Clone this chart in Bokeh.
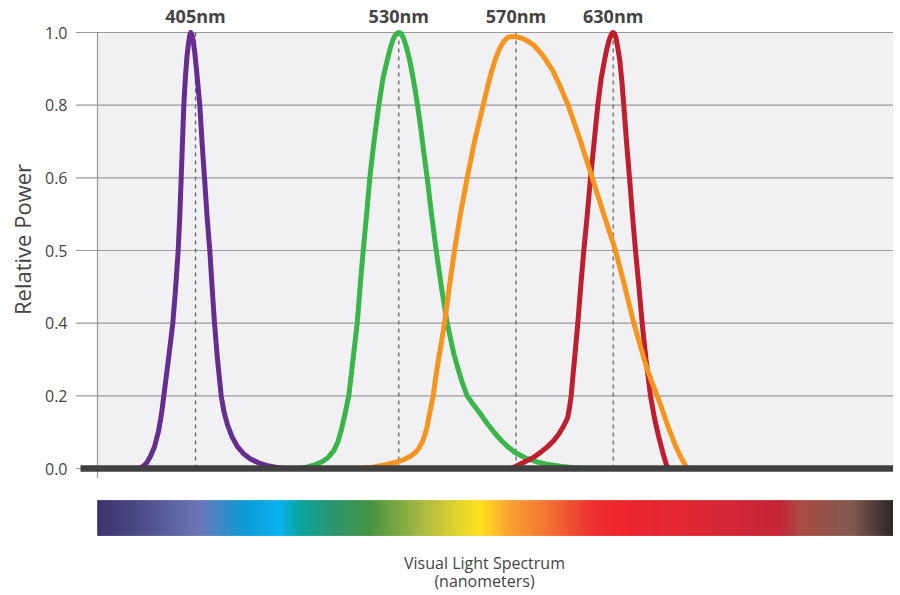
import numpy as np
from bokeh.plotting import figure
from bokeh.layouts import column
from bokeh.models import FixedTicker, Range1d
from bokeh.core.properties import value
from bokeh.embed import file_html
from bokeh.resources import INLINE

# ---------------- data ----------------
y_tick_labels = ["0.0", "0.2", "0.4", "0.5", "0.6", "0.8", "1.0"]

peak_labels = ["405nm", "530nm", "570nm", "630nm"]
peak_pos = [195.0, 398.3, 515.5, 612.7]

violet_x = [138, 142, 146, 150, 154, 158, 161, 163.3, 166, 169, 172.3, 175, 177.7, 179.3, 180.7, 182, 183.3,
            185, 186.5, 188, 189.2, 190.2, 191.3, 192.7, 194.2, 196, 197.8, 199.3, 201.5, 204, 206.5, 209.3,
            211.5, 214, 217, 220.7, 223.5, 227, 231.7, 237, 243, 250, 258, 266, 275, 285]
violet_y = [0, 0.004, 0.012, 0.028, 0.05, 0.085, 0.125, 0.1667, 0.215, 0.27, 0.3333, 0.41, 0.5, 0.58, 0.6667,
            0.75, 0.8333, 0.9, 0.945, 0.975, 0.993, 1.0, 0.996, 0.982, 0.955, 0.915, 0.87, 0.8333, 0.75, 0.6667,
            0.58, 0.5, 0.42, 0.3333, 0.25, 0.1667, 0.13, 0.1, 0.072, 0.05, 0.034, 0.022, 0.013, 0.007, 0.003, 0]

green_x = [298, 306, 314, 322, 328, 333.3, 337.5, 341, 344.5, 348.3, 352.5, 356.7, 359.7, 362.7, 366, 369.3,
           373.5, 378.3, 382.5, 386.7, 389.5, 392.2, 394.8, 397, 398.8, 400.8, 403, 406, 409, 412, 414.5,
           417, 420, 423, 426.7, 431, 435.7, 441, 446.7, 453.3, 458, 462, 466.7, 473, 480, 487, 494, 500,
           506.7, 515, 525, 536.7, 548, 560, 573, 586]
green_y = [0, 0.003, 0.008, 0.016, 0.026, 0.041, 0.062, 0.09, 0.125, 0.1667, 0.25, 0.3333, 0.42, 0.5, 0.58,
           0.6667, 0.75, 0.8333, 0.895, 0.936, 0.962, 0.982, 0.994, 0.999, 1.0, 0.997, 0.987, 0.966, 0.938,
           0.903, 0.87, 0.8333, 0.785, 0.73, 0.6667, 0.583, 0.5, 0.415, 0.3333, 0.263, 0.225, 0.195, 0.1667,
           0.146, 0.125, 0.102, 0.082, 0.066, 0.051, 0.036, 0.024, 0.015, 0.009, 0.005, 0.002, 0]

amber_x = [360, 372, 384, 396.7, 404, 410, 414.5, 418.5, 422, 424.8, 427, 429, 430.8, 432.7, 435.3, 438, 441,
           444, 449, 454, 460, 466.7, 474, 482.7, 487, 491, 495, 499, 503.3, 507, 511, 515, 520, 526, 533.3,
           542, 551.7, 559, 567.3, 579, 591.7, 603, 615, 624, 633.3, 640, 645, 651, 656.7, 661, 665, 668.5,
           671.7, 675, 679, 683, 687]
amber_y = [0, 0.003, 0.008, 0.015, 0.021, 0.028, 0.036, 0.047, 0.062, 0.08, 0.1, 0.125, 0.145, 0.1667, 0.21,
           0.25, 0.29, 0.3333, 0.42, 0.5, 0.585, 0.6667, 0.75, 0.8333, 0.875, 0.91, 0.94, 0.963, 0.98, 0.988,
           0.991, 0.99, 0.988, 0.982, 0.971, 0.948, 0.915, 0.88, 0.835, 0.758, 0.6667, 0.585, 0.5, 0.42,
           0.3333, 0.28, 0.24, 0.2, 0.1667, 0.14, 0.113, 0.09, 0.072, 0.052, 0.032, 0.015, 0]

red_x = [511, 518, 525, 533.3, 540, 546.5, 553.3, 558, 562.5, 565.5, 567.3, 569, 570.7, 572.3, 574, 577.3,
         580.3, 583.3, 586.7, 590, 593.7, 597.3, 600.7, 604, 606.3, 608.5, 610.5, 612.2, 613.8, 615.5, 617.3,
         619.3, 621.3, 623.3, 626, 629, 632, 635, 638.3, 641.7, 645.5, 650, 654, 658.3, 662.5, 667]
red_y = [0, 0.008, 0.016, 0.026, 0.037, 0.049, 0.064, 0.078, 0.095, 0.108, 0.118, 0.14, 0.1667, 0.21, 0.25,
         0.3333, 0.42, 0.5, 0.58, 0.6667, 0.75, 0.8333, 0.895, 0.936, 0.962, 0.982, 0.994, 1.0, 0.998, 0.988,
         0.965, 0.936, 0.89, 0.8333, 0.75, 0.6667, 0.58, 0.5, 0.42, 0.3333, 0.25, 0.1667, 0.115, 0.072, 0.035, 0]

spectrum_stop_x = [97, 130, 200, 245, 280, 300, 330, 370, 420, 455, 480, 510, 545, 590, 620, 700, 780, 800, 850, 893]
spectrum_stop_colors = ["#342a68", "#403e7a", "#6571b5", "#0098d5", "#00aeef", "#00a19a", "#20926c", "#3f8f3a",
                        "#a2b53a", "#dcd025", "#ffde17", "#f99d27", "#f3712b", "#ee2a26", "#ed1c24", "#dc1f2b",
                        "#c01c2e", "#a8443b", "#7e5349", "#231f20"]

# ---------------- styling ----------------
FONT = "Open Sans"
TXT = "#444444"
BORDER_L = 75
X0, X1 = BORDER_L, 893       # frame extent in chart units (left/right)
PLOT_L = 97                  # left edge of shaded plot area
Y_TOP = 1 + 32 / 436
Y_BOT = -10 / 436
GRID = "#9a9a9a"

tick_pos = [i / (len(y_tick_labels) - 1) for i in range(len(y_tick_labels))]

p = figure(frame_width=X1 - X0, frame_height=478, output_backend="svg", toolbar_location=None,
           x_range=Range1d(X0, X1), y_range=Range1d(Y_BOT, Y_TOP), x_axis_location=None,
           min_border_left=BORDER_L, min_border_right=0, min_border_top=0, min_border_bottom=0)
p.outline_line_color = None
p.grid.visible = False
p.background_fill_color = "white"

ax = p.yaxis[0]
ax.ticker = FixedTicker(ticks=tick_pos)
ax.major_label_overrides = {t: l for t, l in zip(tick_pos, y_tick_labels)}
ax.axis_line_color = None
ax.major_tick_line_color = None
ax.major_tick_in = 0
ax.major_tick_out = 0
ax.minor_tick_line_color = None
ax.major_label_standoff = 8
ax.major_label_text_font = FONT
ax.major_label_text_font_size = "16px"
ax.major_label_text_color = TXT
ax.axis_label = "Relative Power"
ax.axis_label_text_font = FONT
ax.axis_label_text_font_size = "22px"
ax.axis_label_text_font_style = "normal"
ax.axis_label_text_color = TXT
ax.axis_label_standoff = 5

# shaded plot area
p.quad(left=[PLOT_L], right=[X1], bottom=[0], top=[1], fill_color="#f1f1f4", line_color=None)
# grid lines (extend left as tick stubs)
p.segment(x0=[X0] * len(tick_pos), x1=[X1] * len(tick_pos), y0=tick_pos, y1=tick_pos,
          line_color=GRID, line_width=1.2)
# vertical axis line
p.segment(x0=[PLOT_L], x1=[PLOT_L], y0=[Y_BOT], y1=[1], line_color=GRID, line_width=1.2)

# dashed peak markers
p.segment(x0=peak_pos, x1=peak_pos, y0=[0] * len(peak_pos), y1=[1] * len(peak_pos),
          line_color="#666666", line_width=1.3, line_dash="4 4")

LW = 5
p.line(violet_x, violet_y, line_color="#662d91", line_width=LW, line_join="round")
p.line(green_x, green_y, line_color="#39b54a", line_width=LW, line_join="round")
p.line(red_x, red_y, line_color="#be1e2d", line_width=LW, line_join="round")
p.line(amber_x, amber_y, line_color="#f7941d", line_width=LW, line_join="round")

# baseline
p.segment(x0=[80], x1=[X1], y0=[0], y1=[0], line_color="#404040", line_width=6.5)

# peak labels
p.text(x=peak_pos, y=[1 + 17 / 436] * len(peak_pos), text=peak_labels, text_font=value(FONT),
       text_font_size="18px", text_font_style="bold", text_color=TXT,
       text_align="center", text_baseline="middle")

# ---------------- spectrum bar ----------------
q = figure(frame_width=X1 - X0, frame_height=67, output_backend="svg", toolbar_location=None,
           x_range=p.x_range, y_range=Range1d(0, 67), y_axis_location=None,
           min_border_left=BORDER_L, min_border_right=0, min_border_top=0, min_border_bottom=0)
q.outline_line_color = None
q.grid.visible = False

stops = np.array([[int(c[1:3], 16), int(c[3:5], 16), int(c[5:7], 16)] for c in spectrum_stop_colors], dtype=float)
lefts = np.arange(spectrum_stop_x[0], spectrum_stop_x[-1], 1.0)
mids = lefts + 0.5
rgb = np.stack([np.interp(mids, spectrum_stop_x, stops[:, ch]) for ch in range(3)], axis=1).round().astype(int)
band_colors = ["#%02x%02x%02x" % tuple(c) for c in rgb]
q.quad(left=lefts, right=lefts + 1.0, bottom=10, top=45, fill_color=band_colors, line_color=band_colors,
       line_width=0.6)

xa = q.xaxis[0]
xa.ticker = FixedTicker(ticks=[])
xa.axis_line_color = None
xa.major_tick_line_color = None
xa.minor_tick_line_color = None
xa.axis_label = "Visual Light Spectrum\n(nanometers)"
xa.axis_label_text_font = FONT
xa.axis_label_text_font_size = "16px"
xa.axis_label_text_font_style = "normal"
xa.axis_label_text_color = TXT
xa.axis_label_standoff = 6
xa.axis_label_text_line_height = 0.85

layout = column(p, q, spacing=0)
open("out.html", "w").write(file_html(layout, INLINE))
